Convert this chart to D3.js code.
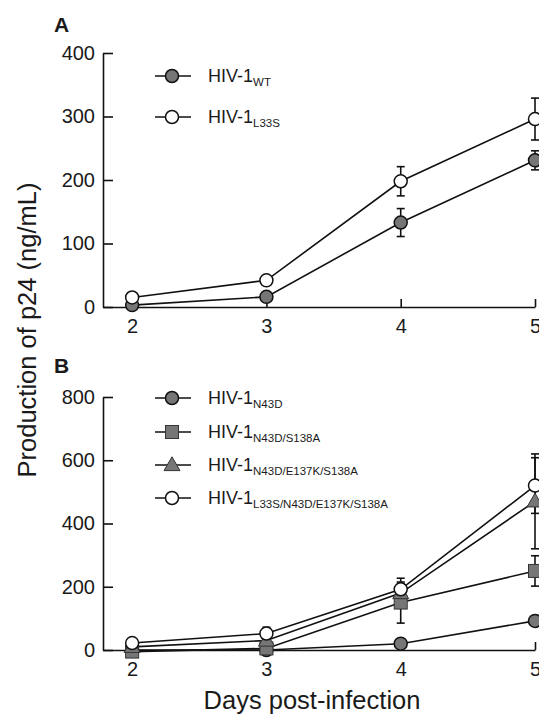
<!DOCTYPE html>
<html>
<head>
<meta charset="utf-8">
<script src="https://cdn.jsdelivr.net/npm/d3@7"></script>
<style>
  body { margin: 0; background: #fff; }
  svg { font-family: "Liberation Sans", Arial, sans-serif; display: block; }
</style>
</head>
<body>
<script>
// days on x axis
var days = [2, 3, 4, 5];

// panel A
var wtMean = [3, 16, 133, 231];
var wtErr = [2, 3, 22, 15];
var l33sMean = [15, 42, 198, 296];
var l33sErr = [2, 3, 23, 33];
var ticksA = [0, 100, 200, 300, 400];

// panel B
var n43dMean = [0, 0, 20, 92];
var n43dErr = [1, 1, 5, 8];
var sqMean = [-5, 5, 150, 250];
var sqErr = [3, 3, 65, 48];
var triMean = [10, 30, 180, 470];
var triErr = [2, 5, 30, 150];
var quadMean = [22, 52, 192, 520];
var quadErr = [3, 20, 35, 88];
var ticksB = [0, 200, 400, 600, 800];

var W = 539, H = 722;
var svg = d3.select("body").append("svg").attr("width", W).attr("height", H);

var x = d3.scaleLinear().domain([1.783, 5]).range([103, 535]);

var grey = "#767676";

function drawMarker(g, shape, fill, cx, cy) {
  if (shape == "circle") {
    g.append("circle").attr("cx", cx).attr("cy", cy).attr("r", 6.5)
      .attr("fill", fill).attr("stroke", "#111").attr("stroke-width", 1.5);
  } else if (shape == "square") {
    g.append("rect").attr("x", cx - 6.5).attr("y", cy - 6.5).attr("width", 13).attr("height", 13)
      .attr("fill", fill).attr("stroke", "#333").attr("stroke-width", 1);
  } else {
    g.append("path").attr("d", d3.symbol().type(d3.symbolTriangle).size(110)())
      .attr("transform", "translate(" + cx + "," + (cy + 1) + ")")
      .attr("fill", fill).attr("stroke", "#333").attr("stroke-width", 1);
  }
}

function panel(y, ticks, series, legendY, letter, letterY) {
  var g = svg.append("g");

  g.append("g").attr("transform", "translate(103,0)")
    .call(d3.axisLeft(y).tickValues(ticks).tickSizeInner(-10).tickSizeOuter(0).tickPadding(8))
    .call(function (a) {
      a.selectAll("text").attr("font-size", 20).attr("fill", "#1a1a1a");
      a.selectAll("line,path").attr("stroke", "#111").attr("stroke-width", 1.6);
    });

  g.append("g").attr("transform", "translate(0," + y(0) + ")")
    .call(d3.axisBottom(x).tickValues(days).tickSizeInner(-8).tickSizeOuter(0).tickPadding(12).tickFormat(d3.format("d")))
    .call(function (a) {
      a.selectAll("text").attr("font-size", 20).attr("fill", "#1a1a1a");
      a.selectAll("line,path").attr("stroke", "#111").attr("stroke-width", 1.6);
    });

  g.append("text").attr("x", 54).attr("y", letterY).attr("font-size", 21)
    .attr("font-weight", "bold").attr("fill", "#1a1a1a").text(letter);

  var line = d3.line().x(function (d) { return x(d[0]); }).y(function (d) { return y(d[1]); });

  series.forEach(function (s) {
    var pts = days.map(function (d, i) { return [d, s.mean[i], s.err[i]]; });
    g.append("path").datum(pts).attr("d", line).attr("fill", "none")
      .attr("stroke", "#111").attr("stroke-width", 1.6);
    pts.forEach(function (p) {
      if (p[2] > 4) {
        var px = x(p[0]), t = y(p[1] + p[2]), b = y(p[1] - p[2]);
        g.append("line").attr("x1", px).attr("x2", px).attr("y1", t).attr("y2", b)
          .attr("stroke", "#111").attr("stroke-width", 1.6);
        g.append("line").attr("x1", px - 4).attr("x2", px + 4).attr("y1", t).attr("y2", t)
          .attr("stroke", "#111").attr("stroke-width", 1.6);
        g.append("line").attr("x1", px - 4).attr("x2", px + 4).attr("y1", b).attr("y2", b)
          .attr("stroke", "#111").attr("stroke-width", 1.6);
      }
    });
  });
  series.forEach(function (s) {
    days.forEach(function (d, i) { drawMarker(g, s.shape, s.fill, x(d), y(s.mean[i])); });
  });

  // legend
  series.forEach(function (s, i) {
    var ly = legendY[i];
    g.append("line").attr("x1", 155).attr("x2", 191).attr("y1", ly).attr("y2", ly)
      .attr("stroke", "#111").attr("stroke-width", 1.6);
    drawMarker(g, s.shape, s.fill, 172, ly);
    var t = g.append("text").attr("x", 208).attr("y", ly + 6).attr("font-size", 18).attr("fill", "#1a1a1a");
    t.append("tspan").text("HIV-1");
    t.append("tspan").attr("font-size", 11.5).attr("dy", 4).text(s.sub);
  });
}

var yA = d3.scaleLinear().domain([0, 400]).range([307, 53]);
panel(yA, ticksA, [
  { sub: "WT", mean: wtMean, err: wtErr, shape: "circle", fill: grey },
  { sub: "L33S", mean: l33sMean, err: l33sErr, shape: "circle", fill: "#fff" }
], [76, 117], "A", 32);

var yB = d3.scaleLinear().domain([0, 800]).range([650, 397]);
panel(yB, ticksB, [
  { sub: "N43D", mean: n43dMean, err: n43dErr, shape: "circle", fill: grey },
  { sub: "N43D/S138A", mean: sqMean, err: sqErr, shape: "square", fill: grey },
  { sub: "N43D/E137K/S138A", mean: triMean, err: triErr, shape: "triangle", fill: grey },
  { sub: "L33S/N43D/E137K/S138A", mean: quadMean, err: quadErr, shape: "circle", fill: "#fff" }
], [398, 432, 465, 498], "B", 373);

svg.append("text").attr("transform", "translate(36,330) rotate(-90)")
  .attr("text-anchor", "middle").attr("font-size", 25.5).attr("fill", "#1a1a1a")
  .text("Production of p24 (ng/mL)");

svg.append("text").attr("x", 312).attr("y", 709)
  .attr("text-anchor", "middle").attr("font-size", 25.5).attr("fill", "#1a1a1a")
  .text("Days post-infection");
</script>
</body>
</html>
